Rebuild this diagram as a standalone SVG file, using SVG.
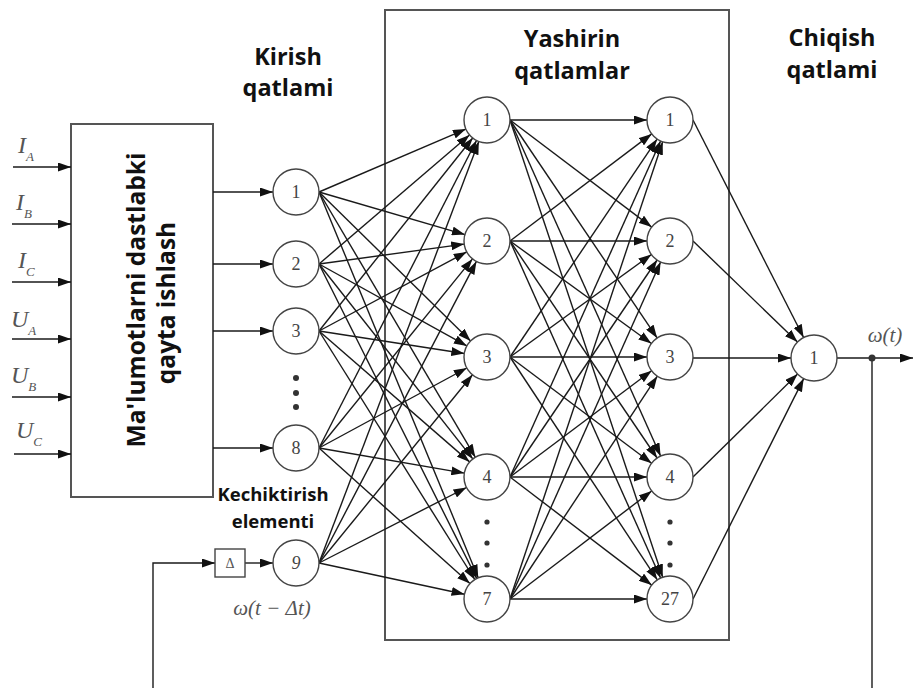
<svg xmlns="http://www.w3.org/2000/svg" width="913" height="688" viewBox="0 0 913 688">
  <defs>
    <marker id="arr" markerUnits="userSpaceOnUse" markerWidth="13" markerHeight="9" refX="13" refY="4.5" orient="auto">
      <path d="M0,0 L13,4.5 L0,9 z" fill="#111"/>
    </marker>
    <style>
      .frame { fill: none; stroke: #555; stroke-width: 2; }
      .node circle { fill: #fff; stroke: #444; stroke-width: 1.4; }
      .node text { font-family: "Liberation Serif", serif; font-size: 18px; fill: #444; text-anchor: middle; }
      .edges line, .edges path { stroke: #1a1a1a; stroke-width: 1.4; fill: none; }
      .edges .a { marker-end: url(#arr); }
      .title { font-family: "Open Sans", "Noto Sans", sans-serif; font-weight: bold; font-size: 23.5px; fill: #111; text-anchor: middle; }
      .block-label { font-size: 24.5px; }
      .small-title { font-size: 18.5px; }
      .math { font-family: "Liberation Serif", serif; font-style: italic; fill: #555; }
      .dot { fill: #333; }
    </style>
  </defs>

  <rect width="913" height="688" fill="#fff"/>

  <!-- layer titles -->
  <text class="title" x="288" y="65">Kirish</text>
  <text class="title" x="288" y="96">qatlami</text>
  <text class="title" x="572" y="47">Yashirin</text>
  <text class="title" x="572" y="79">qatlamlar</text>
  <text class="title" x="832" y="46">Chiqish</text>
  <text class="title" x="832" y="78">qatlami</text>

  <!-- preprocessing block -->
  <g id="preprocess">
    <rect class="frame" x="71" y="124" width="142" height="373"/>
    <text class="title block-label" transform="translate(145,300) rotate(-90)">Ma'lumotlarni dastlabki</text>
    <text class="title block-label" transform="translate(175,303) rotate(-90)">qayta ishlash</text>
  </g>

  <!-- hidden layers frame -->
  <rect id="hidden-frame" class="frame" x="385" y="10" width="344" height="630"/>

  <!-- input signal labels -->
  <g id="signals" class="math">
    <text x="18" y="153" font-size="24">I<tspan font-size="13" dy="8">A</tspan></text>
    <text x="16" y="210" font-size="24">I<tspan font-size="13" dy="8">B</tspan></text>
    <text x="18" y="268" font-size="24">I<tspan font-size="13" dy="8">C</tspan></text>
    <text x="11" y="327" font-size="24">U<tspan font-size="13" dy="8">A</tspan></text>
    <text x="11" y="383" font-size="24">U<tspan font-size="13" dy="8">B</tspan></text>
    <text x="16" y="438" font-size="24">U<tspan font-size="13" dy="8">C</tspan></text>
  </g>

  <!-- connectors -->
  <g id="edges" class="edges">
    <!-- signals into preprocessing -->
    <line class="a" x1="13" y1="167" x2="71" y2="167"/>
    <line class="a" x1="12" y1="224" x2="71" y2="224"/>
    <line class="a" x1="12" y1="282" x2="71" y2="282"/>
    <line class="a" x1="12" y1="339" x2="71" y2="339"/>
    <line class="a" x1="12" y1="397" x2="71" y2="397"/>
    <line class="a" x1="14" y1="454" x2="71" y2="454"/>
    <!-- preprocessing to input layer -->
    <line class="a" x1="213" y1="192" x2="273" y2="192"/>
    <line class="a" x1="213" y1="264" x2="273" y2="264"/>
    <line class="a" x1="213" y1="331" x2="273" y2="331"/>
    <line class="a" x1="213" y1="448" x2="273" y2="448"/>
    <!-- delay element -->
    <path class="a" d="M153,688 V563 H215"/>
    <line class="a" x1="245" y1="563" x2="273" y2="563"/>
    <!-- input layer to hidden layer 1 -->
    <line class="a" x1="319" y1="192" x2="465.9" y2="129.1"/>
    <line class="a" x1="319" y1="192" x2="464.9" y2="234.6"/>
    <line class="a" x1="319" y1="192" x2="470.6" y2="340.9"/>
    <line class="a" x1="319" y1="192" x2="475.3" y2="457.2"/>
    <line class="a" x1="319" y1="192" x2="478.2" y2="577.7"/>
    <line class="a" x1="319" y1="264" x2="469.5" y2="135.0"/>
    <line class="a" x1="319" y1="264" x2="464.2" y2="244.1"/>
    <line class="a" x1="319" y1="264" x2="466.9" y2="345.9"/>
    <line class="a" x1="319" y1="264" x2="472.8" y2="458.9"/>
    <line class="a" x1="319" y1="264" x2="476.7" y2="578.4"/>
    <line class="a" x1="319" y1="331" x2="472.7" y2="138.0"/>
    <line class="a" x1="319" y1="331" x2="466.7" y2="251.9"/>
    <line class="a" x1="319" y1="331" x2="464.3" y2="353.5"/>
    <line class="a" x1="319" y1="331" x2="469.6" y2="461.9"/>
    <line class="a" x1="319" y1="331" x2="474.8" y2="579.5"/>
    <line class="a" x1="319" y1="448" x2="476.5" y2="140.5"/>
    <line class="a" x1="319" y1="448" x2="472.5" y2="258.9"/>
    <line class="a" x1="319" y1="448" x2="466.8" y2="368.0"/>
    <line class="a" x1="319" y1="448" x2="464.3" y2="473.1"/>
    <line class="a" x1="319" y1="448" x2="469.9" y2="583.6"/>
    <line class="a" x1="319" y1="563" x2="478.8" y2="141.5"/>
    <line class="a" x1="319" y1="563" x2="476.4" y2="261.4"/>
    <line class="a" x1="319" y1="563" x2="472.5" y2="374.8"/>
    <line class="a" x1="319" y1="563" x2="466.5" y2="487.5"/>
    <line class="a" x1="319" y1="563" x2="464.5" y2="594.2"/>
    <!-- hidden layer 1 to hidden layer 2 -->
    <line class="a" x1="510" y1="120" x2="647" y2="120"/>
    <line class="a" x1="510" y1="120" x2="651.7" y2="227.1"/>
    <line class="a" x1="510" y1="120" x2="657.1" y2="337.9"/>
    <line class="a" x1="510" y1="120" x2="660.6" y2="456.0"/>
    <line class="a" x1="510" y1="120" x2="662.7" y2="577.2"/>
    <line class="a" x1="510" y1="241" x2="651.7" y2="133.9"/>
    <line class="a" x1="510" y1="241" x2="647" y2="241"/>
    <line class="a" x1="510" y1="241" x2="651.4" y2="343.5"/>
    <line class="a" x1="510" y1="241" x2="657.1" y2="458.0"/>
    <line class="a" x1="510" y1="241" x2="660.6" y2="578.0"/>
    <line class="a" x1="510" y1="357" x2="657.1" y2="139.1"/>
    <line class="a" x1="510" y1="357" x2="651.4" y2="254.5"/>
    <line class="a" x1="510" y1="357" x2="647" y2="357"/>
    <line class="a" x1="510" y1="357" x2="651.6" y2="463.2"/>
    <line class="a" x1="510" y1="357" x2="657.3" y2="579.8"/>
    <line class="a" x1="510" y1="477" x2="660.6" y2="141.0"/>
    <line class="a" x1="510" y1="477" x2="657.1" y2="260.0"/>
    <line class="a" x1="510" y1="477" x2="651.6" y2="370.8"/>
    <line class="a" x1="510" y1="477" x2="647" y2="477"/>
    <line class="a" x1="510" y1="477" x2="651.7" y2="585.1"/>
    <line class="a" x1="510" y1="599" x2="662.7" y2="141.8"/>
    <line class="a" x1="510" y1="599" x2="660.6" y2="262.0"/>
    <line class="a" x1="510" y1="599" x2="657.3" y2="376.2"/>
    <line class="a" x1="510" y1="599" x2="651.7" y2="491.0"/>
    <line class="a" x1="510" y1="599" x2="647" y2="599"/>
    <!-- hidden layer 2 to output -->
    <line class="a" x1="693" y1="120" x2="803.6" y2="337.5"/>
    <line class="a" x1="693" y1="241" x2="797.5" y2="342.0"/>
    <line class="a" x1="693" y1="358" x2="791" y2="358"/>
    <line class="a" x1="693" y1="477" x2="797.6" y2="374.1"/>
    <line class="a" x1="693" y1="599" x2="803.7" y2="378.6"/>
    <!-- output and feedback -->
    <line class="a" x1="837" y1="358" x2="913" y2="358"/>
    <line x1="872" y1="358" x2="872" y2="688"/>
  </g>
  <circle class="dot" cx="872" cy="358" r="3.5"/>

  <!-- delay element -->
  <g id="delay">
    <rect x="215" y="549" width="30" height="28" fill="#fff" stroke="#444" stroke-width="1.4"/>
    <text x="230" y="568" font-family="Liberation Serif, serif" font-size="14" fill="#555" text-anchor="middle">Δ</text>
  </g>
  <text class="title small-title" x="273" y="501">Kechiktirish</text>
  <text class="title small-title" x="273" y="528">elementi</text>
  <text class="math" x="272" y="615" font-size="21" text-anchor="middle">ω(t − Δt)</text>
  <text class="math" x="885" y="342" font-size="21" text-anchor="middle">ω(t)</text>

  <!-- input layer -->
  <g id="in1" class="node"><circle cx="296" cy="192" r="23"/><text x="296" y="198">1</text></g>
  <g id="in2" class="node"><circle cx="296" cy="264" r="23"/><text x="296" y="270">2</text></g>
  <g id="in3" class="node"><circle cx="296" cy="331" r="23"/><text x="296" y="337">3</text></g>
  <g id="in-dots">
    <circle class="dot" cx="296" cy="378" r="3"/>
    <circle class="dot" cx="296" cy="393" r="3"/>
    <circle class="dot" cx="296" cy="407" r="3"/>
  </g>
  <g id="in8" class="node"><circle cx="296" cy="448" r="23"/><text x="296" y="454">8</text></g>
  <g id="in9" class="node"><circle cx="296" cy="563" r="23"/><text x="296" y="569" font-style="italic">9</text></g>

  <!-- hidden layer 1 -->
  <g id="h1-1" class="node"><circle cx="487" cy="120" r="23"/><text x="487" y="126">1</text></g>
  <g id="h1-2" class="node"><circle cx="487" cy="241" r="23"/><text x="487" y="247">2</text></g>
  <g id="h1-3" class="node"><circle cx="487" cy="357" r="23"/><text x="487" y="363">3</text></g>
  <g id="h1-4" class="node"><circle cx="487" cy="477" r="23"/><text x="487" y="483">4</text></g>
  <g id="h1-dots">
    <circle class="dot" cx="487" cy="522" r="2.6"/>
    <circle class="dot" cx="487" cy="543" r="2.6"/>
    <circle class="dot" cx="487" cy="565" r="2.6"/>
  </g>
  <g id="h1-7" class="node"><circle cx="487" cy="599" r="23"/><text x="487" y="605">7</text></g>

  <!-- hidden layer 2 -->
  <g id="h2-1" class="node"><circle cx="670" cy="120" r="23"/><text x="670" y="126">1</text></g>
  <g id="h2-2" class="node"><circle cx="670" cy="241" r="23"/><text x="670" y="247">2</text></g>
  <g id="h2-3" class="node"><circle cx="670" cy="357" r="23"/><text x="670" y="363">3</text></g>
  <g id="h2-4" class="node"><circle cx="670" cy="477" r="23"/><text x="670" y="483">4</text></g>
  <g id="h2-dots">
    <circle class="dot" cx="670" cy="522" r="2.6"/>
    <circle class="dot" cx="670" cy="543" r="2.6"/>
    <circle class="dot" cx="670" cy="565" r="2.6"/>
  </g>
  <g id="h2-27" class="node"><circle cx="670" cy="599" r="23"/><text x="670" y="605">27</text></g>

  <!-- output layer -->
  <g id="out1" class="node"><circle cx="814" cy="358" r="23"/><text x="814" y="364">1</text></g>
</svg>
